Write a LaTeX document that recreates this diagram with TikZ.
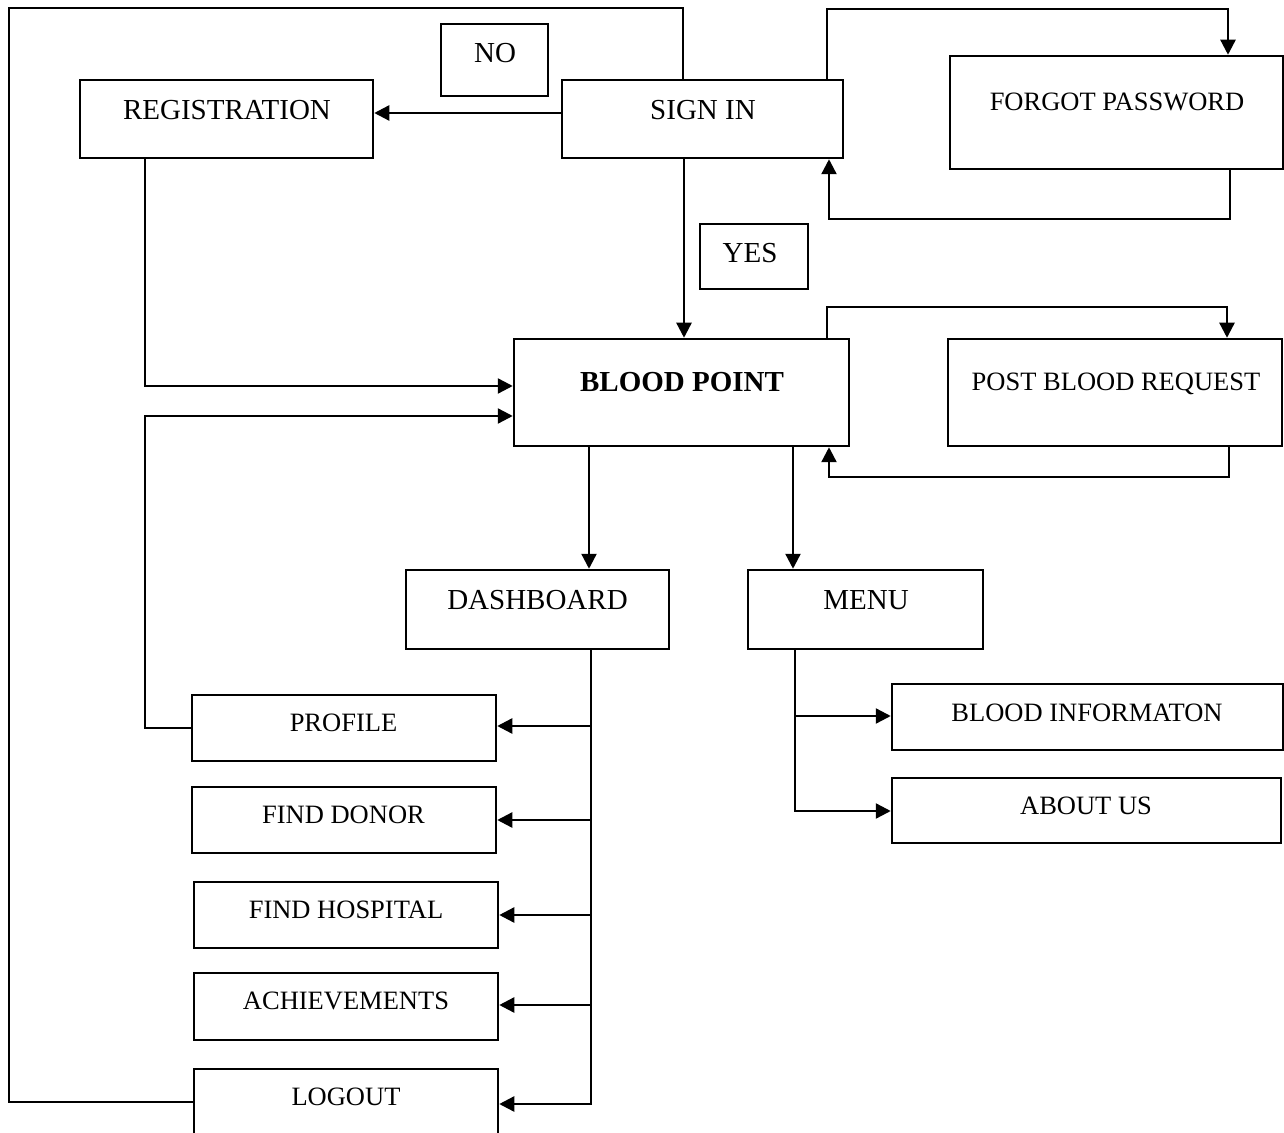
\documentclass[tikz,border=0pt]{standalone}
\usepackage{fontspec}
\setmainfont{Liberation Serif}
\usetikzlibrary{arrows.meta,fit}
\begin{document}
\begin{tikzpicture}[x=0.5pt,y=-0.5pt,
  box/.style={draw,line width=1.25pt,inner sep=0pt},
  big/.style={anchor=base,inner sep=0pt,font=\fontsize{14.5}{17}\selectfont},
  small/.style={anchor=base,inner sep=0pt,font=\fontsize{13.25}{16}\selectfont},
  conn/.style={line width=1.2pt},
  arr/.style={conn,-{Triangle[length=7.5pt,width=7.5pt]}}]
\useasboundingbox (0,0) rectangle (1284,1133);
% boxes
\node[box,fit={(80,80)(373,158)}] (reg) {};
\node[box,fit={(441,24)(548,96)}] (no) {};
\node[box,fit={(562,80)(843,158)}] (signin) {};
\node[box,fit={(950,56)(1283,169)}] (forgot) {};
\node[box,fit={(700,224)(808,289)}] (yes) {};
\node[box,fit={(514,339)(849,446)}] (blood) {};
\node[box,fit={(948,339)(1282,446)}] (post) {};
\node[box,fit={(406,570)(669,649)}] (dash) {};
\node[box,fit={(748,570)(983,649)}] (menu) {};
\node[box,fit={(192,695)(496,761)}] (profile) {};
\node[box,fit={(192,787)(496,853)}] (donor) {};
\node[box,fit={(194,882)(498,948)}] (hosp) {};
\node[box,fit={(194,973)(498,1040)}] (ach) {};
\node[box,fit={(194,1069)(498,1134)}] (logout) {};
\node[box,fit={(892,684)(1283,750)}] (binfo) {};
\node[box,fit={(892,778)(1281,843)}] (about) {};
% texts
\node[big] (reg-t) at (227,119.5) {REGISTRATION};
\node[big] (signin-t) at (703,119.5) {SIGN IN};
\node[big] (no-t) at (495,62.5) {NO};
\node[small] (forgot-t) at (1117,111) {FORGOT PASSWORD};
\node[big] (yes-t) at (750,262.5) {YES};
\node[big,font=\fontsize{14.5}{17}\selectfont\bfseries] (blood-t) at (682,392) {BLOOD POINT};
\node[small] (post-t) at (1116,391) {POST BLOOD REQUEST};
\node[big] (dash-t) at (537.5,609.5) {DASHBOARD};
\node[big] (menu-t) at (866,609.5) {MENU};
\node[small] (profile-t) at (343.5,731.7) {PROFILE};
\node[small] (donor-t) at (343.5,823.3) {FIND DONOR};
\node[small] (hosp-t) at (346,918.3) {FIND HOSPITAL};
\node[small] (ach-t) at (346,1009.3) {ACHIEVEMENTS};
\node[small] (logout-t) at (346,1105) {LOGOUT};
\node[small] (binfo-t) at (1087,721) {BLOOD INFORMATON};
\node[small] (about-t) at (1086,814) {ABOUT US};
% connectors
\draw[arr] (signin.west |- 0,113) -- (reg.east |- 0,113);
\draw[conn] (logout.west |- 0,1102) -- (9,1102) -- (9,8) -- (683,8) -- (signin.north -| 683,0);
\draw[arr] (signin.north -| 827,0) -- (827,9) -- (1228,9) -- (forgot.north -| 1228,0);
\draw[arr] (forgot.south -| 1230,0) -- (1230,219) -- (829,219) -- (signin.south -| 829,0);
\draw[arr] (signin.south -| 684,0) -- (blood.north -| 684,0);
\draw[arr] (reg.south -| 145,0) -- (145,386) -- (blood.west |- 0,386);
\draw[arr] (profile.west |- 0,728) -- (145,728) -- (145,416) -- (blood.west |- 0,416);
\draw[arr] (blood.north -| 827,0) -- (827,307) -- (1227,307) -- (post.north -| 1227,0);
\draw[arr] (post.south -| 1229,0) -- (1229,477) -- (829,477) -- (blood.south -| 829,0);
\draw[arr] (blood.south -| 589,0) -- (dash.north -| 589,0);
\draw[arr] (blood.south -| 793,0) -- (menu.north -| 793,0);
\draw[arr] (dash.south -| 591,0) -- (591,1104) -- (logout.east |- 0,1104);
\draw[arr] (591,726) -- (profile.east |- 0,726);
\draw[arr] (591,820) -- (donor.east |- 0,820);
\draw[arr] (591,915) -- (hosp.east |- 0,915);
\draw[arr] (591,1005) -- (ach.east |- 0,1005);
\draw[arr] (menu.south -| 795,0) -- (795,811) -- (about.west |- 0,811);
\draw[arr] (795,716) -- (binfo.west |- 0,716);
\end{tikzpicture}
\end{document}
